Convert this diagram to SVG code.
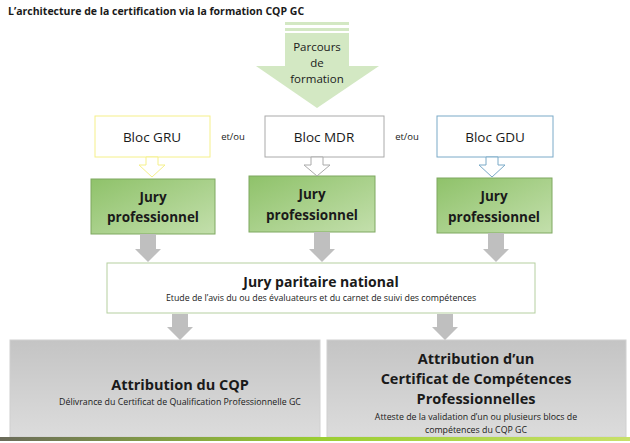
<svg xmlns="http://www.w3.org/2000/svg" width="630" height="443" viewBox="0 0 630 443">
<defs>
<linearGradient id="gj" x1="0" y1="0" x2="1" y2="1"><stop offset="0" stop-color="#8fc26a"/><stop offset="1" stop-color="#c3dfac"/></linearGradient>
<linearGradient id="gb" x1="0" y1="0" x2="0" y2="1"><stop offset="0" stop-color="#c4c4c4"/><stop offset="1" stop-color="#dcdcdc"/></linearGradient>
<linearGradient id="gl" x1="0" y1="0" x2="1" y2="0"><stop offset="0" stop-color="#6b6b5a"/><stop offset="0.5" stop-color="#9acd32"/><stop offset="1" stop-color="#c8e06a"/></linearGradient>
<style>
text{font-family:"Open Sans","Liberation Sans",sans-serif;text-anchor:middle;fill:#1a1a1a}
.b{font-weight:bold}
.jury rect{fill:url(#gj);stroke:#7fa860;stroke-width:1}
.ga{fill:#bfbfbf}
</style>
</defs>
<rect width="630" height="443" fill="#fff"/>
<text x="8" y="15" class="b" font-size="10.5" style="text-anchor:start">L’architecture de la certification via la formation CQP GC</text>
<g id="parcours">
<rect x="285" y="22" width="64" height="3" fill="#d3e8c3"/>
<rect x="285" y="28" width="64" height="3" fill="#d3e8c3"/>
<polygon points="285,33 349,33 349,66 379,66 317,108 256,66 285,66" fill="#d3e8c3"/>
<text x="317" y="51" font-size="11.5">Parcours</text>
<text x="317" y="67" font-size="11.5">de</text>
<text x="317" y="83" font-size="11.5">formation</text>
</g>
<g id="bloc-gru"><rect x="95" y="116" width="115" height="41" fill="#fff" stroke="#f5f08a"/><text x="152" y="142" font-size="13.5">Bloc GRU</text></g>
<g id="bloc-mdr"><rect x="265" y="116" width="119" height="41" fill="#fff" stroke="#aaa"/><text x="324" y="142" font-size="13.5">Bloc MDR</text></g>
<g id="bloc-gdu"><rect x="437" y="116" width="116" height="41" fill="#fff" stroke="#7aaac8"/><text x="495" y="142" font-size="13.5">Bloc GDU</text></g>
<text x="233" y="140" font-size="9.5">et/ou</text>
<text x="407" y="140" font-size="9.5">et/ou</text>
<g id="jury-gru" class="jury"><rect x="91" y="179" width="124" height="55"/><text x="153" y="202" class="b" font-size="13.5">Jury</text><text x="153" y="222" class="b" font-size="13.5">professionnel</text></g>
<g id="jury-mdr" class="jury"><rect x="249" y="176" width="126" height="56"/><text x="312" y="199" class="b" font-size="13.5">Jury</text><text x="312" y="220" class="b" font-size="13.5">professionnel</text></g>
<g id="jury-gdu" class="jury"><rect x="437" y="178" width="115" height="55"/><text x="494" y="201" class="b" font-size="13.5">Jury</text><text x="494" y="222" class="b" font-size="13.5">professionnel</text></g>
<g id="jury-national"><rect x="107" y="263" width="428" height="50" fill="#fff" stroke="#b5cfa0"/><text x="321" y="287" class="b" font-size="14">Jury paritaire national</text><text x="321" y="301" font-size="8.8">Etude de l’avis du ou des évaluateurs et du carnet de suivi des compétences</text></g>
<g id="attribution-cqp"><rect x="10" y="340" width="310" height="97" fill="url(#gb)" stroke="#d0d0d0"/><text x="180" y="390" class="b" font-size="14.5">Attribution du CQP</text><text x="180" y="405" font-size="8.8">Délivrance du Certificat de Qualification Professionnelle GC</text></g>
<g id="attribution-ccp"><rect x="327" y="340" width="299" height="97" fill="url(#gb)" stroke="#d0d0d0"/><text x="476" y="364" class="b" font-size="14.5">Attribution d’un</text><text x="476" y="384" class="b" font-size="14.5">Certificat de Compétences</text><text x="476" y="404" class="b" font-size="14.5">Professionnelles</text><text x="476" y="420" font-size="8.8">Atteste de la validation d’un ou plusieurs blocs de</text><text x="476" y="433" font-size="8.8">compétences du CQP GC</text></g>
<rect x="0" y="437" width="630" height="4" fill="url(#gl)"/>
<g id="connectors">
<polygon points="146,157 158,157 158,165 165,165 152,177 139,165 146,165" fill="#fff" stroke="#f5f08a"/>
<polygon points="311,157 323,157 323,165 330,165 317,176 304,165 311,165" fill="#fff" stroke="#aaa"/>
<polygon points="486,157 498,157 498,165 505,165 492,177 479,165 486,165" fill="#fff" stroke="#7aaac8"/>
<polygon class="ga" points="140,234 156,234 156,249 161,249 148,262 135,249 140,249"/>
<polygon class="ga" points="314,232 330,232 330,249 335,249 322,262 309,249 314,249"/>
<polygon class="ga" points="488,233 504,233 504,249 509,249 496,262 483,249 488,249"/>
<polygon class="ga" points="172,314 188,314 188,327 193,327 180,340 167,327 172,327"/>
<polygon class="ga" points="437,314 453,314 453,327 458,327 445,340 432,327 437,327"/>
</g>
</svg>
